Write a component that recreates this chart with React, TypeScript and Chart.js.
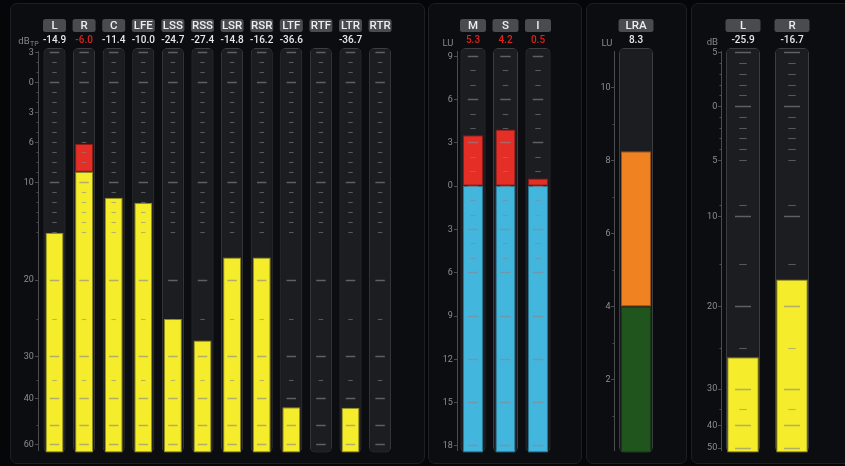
import React, { useEffect, useRef } from 'react';
import { Chart, registerables, LinearScale } from 'chart.js';

Chart.register(...registerables);

// ---------------- data ----------------
// True-peak meter (dBTP)
const tpChannels = ['L', 'R', 'C', 'LFE', 'LSS', 'RSS', 'LSR', 'RSR', 'LTF', 'RTF', 'LTR', 'RTR'];
const tpLevels: (number | null)[] = [-15.1, -6.2, -11.6, -12.1, -25.0, -27.9, -17.7, -17.7, -43.4, null, -43.6, null];
const tpPeaks: (number | null)[] = [-14.9, -6.0, -11.4, -10.0, -24.7, -27.4, -14.8, -16.2, -36.6, null, -36.7, null];
const tpTicks = [3, 2, 1, 0, -1, -2, -3, -4, -5, -6, -7, -8, -9, -10, -11, -12, -13, -14, -15, -20, -25, -30, -35, -40, -50, -60];
const tpMajor = [3, 0, -10, -20, -30, -40, -50, -60];
const tpLabelTicks = [3, 0, -3, -6, -10, -20, -30, -40, -60];
const tpRedAbove = -9;
// meter law: [dB, fraction of meter height]
const tpLaw: [number, number][] = [
  [-65, 0], [-60, 0.021], [-50, 0.068], [-40, 0.1347], [-35, 0.1792], [-30, 0.2386],
  [-25, 0.33], [-20, 0.4272], [-15, 0.5459], [3, 0.9894], [3.45, 1],
];

// Loudness meter (LU)
const luChannels = ['M', 'S', 'I'];
const luLevels = [3.5, 3.9, 0.5];
const luReadings = [5.3, 4.2, 0.5];
const luTicks = [9, 8, 7, 6, 5, 4, 3, 2, 1, 0, -1, -2, -3, -4, -5, -6, -9, -12, -15, -18];
const luMajor = [9, 6, 3, 0, -3, -6, -9, -12, -15, -18];
const luLabelTicks = [9, 6, 3, 0, -3, -6, -9, -12, -15, -18];
const luRedAbove = 0;
const luLaw: [number, number][] = [[-18.5, 0], [9.55, 1]];

// Loudness range (LU)
const lraLabels = ['LRA'];
const lraLow = [4.0];
const lraHigh = [8.25];
const lraReadings = [8.3];
const lraAxisTicks = [10, 9, 8, 7, 6, 5, 4, 3, 2, 1];
const lraLabelTicks = [10, 8, 6, 4, 2];
const lraLaw: [number, number][] = [[0, 0], [11.08, 1]];

// Stereo dB meter
const dbChannels = ['L', 'R'];
const dbLevels = [-26.1, -16.8];
const dbReadings = [-25.9, -16.7];
const dbTicks = [5, 4, 3, 2, 1, 0, -1, -2, -3, -4, -5, -9, -10, -15, -20, -25, -30, -35, -40, -50];
const dbMajor = [5, 0, -10, -20, -30, -40, -50];
const dbLabelTicks = [5, 0, -5, -10, -20, -30, -40, -50];
const dbLaw: [number, number][] = [
  [-52.2, 0], [-50, 0.0119], [-40, 0.068], [-35, 0.1068], [-30, 0.1577], [-25, 0.2576],
  [-20, 0.3614], [-15, 0.4653], [-10, 0.5847], [-5, 0.7231], [5, 0.9894], [5.4, 1],
];

// ---------------- scale ----------------
function makeMeterScale(scaleId: string, law: [number, number][]) {
  class MeterScale extends (LinearScale as any) {
    static id = scaleId;
    static defaults = (LinearScale as any).defaults;
    determineDataLimits() {
      (this as any).min = law[0][0];
      (this as any).max = law[law.length - 1][0];
    }
    buildTicks() {
      return law.map(([v]) => ({ value: v }));
    }
    getPixelForValue(value: number) {
      let f = law[0][1];
      if (value >= law[law.length - 1][0]) f = law[law.length - 1][1];
      else if (value > law[0][0]) {
        for (let i = 1; i < law.length; i++) {
          if (value <= law[i][0]) {
            const [v0, f0] = law[i - 1];
            const [v1, f1] = law[i];
            f = f0 + ((f1 - f0) * (value - v0)) / (v1 - v0);
            break;
          }
        }
      }
      const s = this as any;
      return s.bottom - f * (s.bottom - s.top);
    }
    getValueForPixel(pixel: number) {
      const s = this as any;
      const f = (s.bottom - pixel) / (s.bottom - s.top);
      for (let i = 1; i < law.length; i++) {
        if (f <= law[i][1]) {
          const [v0, f0] = law[i - 1];
          const [v1, f1] = law[i];
          return v0 + ((v1 - v0) * (f - f0)) / (f1 - f0);
        }
      }
      return law[law.length - 1][0];
    }
  }
  return MeterScale;
}

Chart.register(
  makeMeterScale('meterTP', tpLaw) as any,
  makeMeterScale('meterLU', luLaw) as any,
  makeMeterScale('meterLRA', lraLaw) as any,
  makeMeterScale('meterDB', dbLaw) as any,
);

// ---------------- layout / style ----------------
const W = 845;
const H = 466;
const AREA_TOP = 48;
const AREA_BOTTOM = 452.5;
const FONT = 'Roboto, "Noto Sans", sans-serif';

const panels = [
  { x: 10, y: 3, w: 415, h: 461 },
  { x: 428, y: 3, w: 154, h: 461 },
  { x: 586, y: 3, w: 101, h: 461 },
  { x: 691, y: 3, w: 170, h: 461 },
];

const YELLOW = '#f5ed2b';
const YELLOW_EDGE = '#8f891b';
const RED = '#e52e26';
const RED_EDGE = '#8e1b17';
const BLUE = '#43b6de';
const BLUE_EDGE = '#2b7893';
const ORANGE = '#f18222';
const ORANGE_EDGE = '#9a5318';
const GREEN = '#20561e';
const GREEN_EDGE = '#163c15';

type Seg = { data: ([number, number] | null)[]; color: string; edge: string };

interface Spec {
  scaleId: string;
  labels: string[];
  left: number;
  right: number;
  axisX: number;
  trackPct: number;
  barPct: number;
  trackRange: [number, number];
  segments: Seg[];
  dashTicks: number[];
  dashMajor: number[];
  dashLong: number;
  dashShort: number;
  axisTicks: number[];
  labelTicks: number[];
  unit: { text: string; sub?: string; x: number; y: number; align: 'left' | 'center' };
  readings: (number | null)[];
  readingColor: (v: number) => string;
}

const tpFloor = tpLaw[0][0];
const tpTop = tpLaw[tpLaw.length - 1][0];
const luFloor = luLaw[0][0];
const luTop = luLaw[luLaw.length - 1][0];
const lraTop = lraLaw[lraLaw.length - 1][0];
const dbFloor = dbLaw[0][0];
const dbTop = dbLaw[dbLaw.length - 1][0];

const specs: Spec[] = [
  {
    scaleId: 'meterTP',
    labels: tpChannels,
    left: 39.7,
    right: 394.9,
    axisX: 37.7,
    trackPct: 0.743,
    barPct: 0.608,
    trackRange: [tpFloor, tpTop],
    segments: [
      { data: tpLevels.map((v) => (v == null ? null : [tpFloor, Math.min(v, tpRedAbove)] as [number, number])), color: YELLOW, edge: YELLOW_EDGE },
      { data: tpLevels.map((v) => (v != null && v > tpRedAbove ? [tpRedAbove, v] as [number, number] : null)), color: RED, edge: RED_EDGE },
    ],
    dashTicks: tpTicks,
    dashMajor: tpMajor,
    dashLong: 9.5,
    dashShort: 4.5,
    axisTicks: tpTicks,
    labelTicks: tpLabelTicks,
    unit: { text: 'dB', sub: 'TP', x: 18.3, y: 41.5, align: 'left' },
    readings: tpPeaks,
    readingColor: (v) => (v > tpRedAbove ? '#e0211c' : '#e8e8e8'),
  },
  {
    scaleId: 'meterLU',
    labels: luChannels,
    left: 456.75,
    right: 554.25,
    axisX: 456.7,
    trackPct: 0.77,
    barPct: 0.615,
    trackRange: [luFloor, luTop],
    segments: [
      { data: luLevels.map((v) => [luFloor, Math.min(v, luRedAbove)] as [number, number]), color: BLUE, edge: BLUE_EDGE },
      { data: luLevels.map((v) => (v > luRedAbove ? [luRedAbove, v] as [number, number] : null)), color: RED, edge: RED_EDGE },
    ],
    dashTicks: luTicks,
    dashMajor: luMajor,
    dashLong: 10.5,
    dashShort: 5.5,
    axisTicks: luLabelTicks,
    labelTicks: luLabelTicks,
    unit: { text: 'LU', x: 448, y: 43.3, align: 'center' },
    readings: luReadings,
    readingColor: (v) => (v > luRedAbove ? '#e0211c' : '#e8e8e8'),
  },
  {
    scaleId: 'meterLRA',
    labels: lraLabels,
    left: 614.3,
    right: 657.7,
    axisX: 614.3,
    trackPct: 0.783,
    barPct: 0.691,
    trackRange: [0, lraTop],
    segments: [
      { data: lraLow.map((v) => [0, v] as [number, number]), color: GREEN, edge: GREEN_EDGE },
      { data: lraLow.map((v, i) => [v, lraHigh[i]] as [number, number]), color: ORANGE, edge: ORANGE_EDGE },
    ],
    dashTicks: [],
    dashMajor: [],
    dashLong: 0,
    dashShort: 0,
    axisTicks: lraAxisTicks,
    labelTicks: lraLabelTicks,
    unit: { text: 'LU', x: 607, y: 43.3, align: 'center' },
    readings: lraReadings,
    readingColor: () => '#e8e8e8',
  },
  {
    scaleId: 'meterDB',
    labels: dbChannels,
    left: 718.5,
    right: 816.5,
    axisX: 721,
    trackPct: 0.694,
    barPct: 0.645,
    trackRange: [dbFloor, dbTop],
    segments: [
      { data: dbLevels.map((v) => [dbFloor, v] as [number, number]), color: YELLOW, edge: YELLOW_EDGE },
    ],
    dashTicks: dbTicks,
    dashMajor: dbMajor,
    dashLong: 16,
    dashShort: 7.5,
    axisTicks: dbTicks,
    labelTicks: dbLabelTicks,
    unit: { text: 'dB', x: 712.3, y: 43, align: 'center' },
    readings: dbReadings,
    readingColor: () => '#e8e8e8',
  },
];

function rrect(ctx: CanvasRenderingContext2D, x: number, y: number, w: number, h: number, r: number) {
  ctx.beginPath();
  ctx.moveTo(x + r, y);
  ctx.lineTo(x + w - r, y);
  ctx.quadraticCurveTo(x + w, y, x + w, y + r);
  ctx.lineTo(x + w, y + h - r);
  ctx.quadraticCurveTo(x + w, y + h, x + w - r, y + h);
  ctx.lineTo(x + r, y + h);
  ctx.quadraticCurveTo(x, y + h, x, y + h - r);
  ctx.lineTo(x, y + r);
  ctx.quadraticCurveTo(x, y, x + r, y);
  ctx.closePath();
}

function decor(spec: Spec) {
  return {
    id: 'meterDecor',
    afterDatasetsDraw(chart: any) {
      const ctx: CanvasRenderingContext2D = chart.ctx;
      const y = chart.scales.y;
      const track = chart.getDatasetMeta(0).data as any[];
      ctx.save();

      // dashes inside the tracks
      for (const el of track) {
        for (const v of spec.dashTicks) {
          const major = spec.dashMajor.includes(v);
          const half = (major ? spec.dashLong : spec.dashShort) / 2;
          const py = Math.round(y.getPixelForValue(v)) + 0.5;
          ctx.strokeStyle = major ? 'rgba(135,137,141,0.62)' : 'rgba(135,137,141,0.55)';
          ctx.lineWidth = major ? 1.5 : 1.1;
          ctx.beginPath();
          ctx.moveTo(el.x - half, py);
          ctx.lineTo(el.x + half, py);
          ctx.stroke();
        }
      }

      // axis
      const ax = Math.round(spec.axisX) + 0.5;
      ctx.strokeStyle = '#4a4c50';
      ctx.lineWidth = 1;
      ctx.beginPath();
      ctx.moveTo(ax, 51);
      ctx.lineTo(ax, 451);
      ctx.stroke();
      for (const v of spec.axisTicks) {
        const isLabel = spec.labelTicks.includes(v);
        const len = isLabel ? 3.5 : 2;
        const py = Math.round(y.getPixelForValue(v)) + 0.5;
        ctx.beginPath();
        ctx.moveTo(ax - len, py);
        ctx.lineTo(ax, py);
        ctx.stroke();
      }
      ctx.fillStyle = '#8b8d91';
      ctx.font = `9px ${FONT}`;
      ctx.textAlign = 'right';
      ctx.textBaseline = 'middle';
      for (const v of spec.labelTicks) {
        ctx.fillText(String(Math.abs(v)), spec.axisX - 3.8, y.getPixelForValue(v) + 0.5);
      }

      // unit
      ctx.fillStyle = '#85878b';
      ctx.font = `9.5px ${FONT}`;
      ctx.textAlign = spec.unit.align;
      ctx.fillText(spec.unit.text, spec.unit.x, spec.unit.y);
      if (spec.unit.sub) {
        const w = ctx.measureText(spec.unit.text).width;
        ctx.font = `7px ${FONT}`;
        ctx.textAlign = 'left';
        ctx.fillText(spec.unit.sub, spec.unit.x + w + 0.5, spec.unit.y + 2.5);
      }

      // headers
      track.forEach((el: any, i: number) => {
        const w = el.width + 1;
        ctx.fillStyle = '#4a4b4e';
        rrect(ctx, el.x - w / 2, 19, w, 13, 2.5);
        ctx.fill();
        ctx.fillStyle = '#ededed';
        ctx.font = `500 11.5px ${FONT}`;
        ctx.textAlign = 'center';
        ctx.textBaseline = 'middle';
        ctx.fillText(spec.labels[i], el.x, 25.9);
        const r = spec.readings[i];
        if (r != null) {
          ctx.fillStyle = spec.readingColor(r);
          ctx.font = `500 10px ${FONT}`;
          ctx.fillText(r.toFixed(1), el.x, 40.6);
        }
      });
      ctx.restore();
    },
  };
}

function buildChart(canvas: HTMLCanvasElement, spec: Spec) {
  const common = { categoryPercentage: 1, grouped: false, borderSkipped: false, clip: false as any };
  const datasets: any[] = [
    {
      ...common,
      data: spec.labels.map(() => spec.trackRange),
      backgroundColor: '#1b1d20',
      borderColor: '#3c3e42',
      borderWidth: 1,
      borderRadius: 5,
      barPercentage: spec.trackPct,
      order: 10,
    },
    ...spec.segments.map((s, k) => ({
      ...common,
      data: s.data,
      backgroundColor: s.color,
      borderColor: s.edge,
      borderWidth: 1,
      borderRadius: 0,
      barPercentage: spec.barPct,
      order: 5 - k,
    })),
  ];
  return new Chart(canvas, {
    type: 'bar',
    data: { labels: spec.labels, datasets },
    options: {
      animation: false,
      responsive: false,
      events: [],
      layout: {
        padding: { left: spec.left, right: W - spec.right, top: AREA_TOP, bottom: H - AREA_BOTTOM },
      },
      plugins: { legend: { display: false }, tooltip: { enabled: false }, title: { display: false } },
      scales: {
        x: { type: 'category', display: false, offset: true },
        y: { type: spec.scaleId as any, display: false },
      },
    } as any,
    plugins: [decor(spec) as any],
  });
}

export default function App() {
  const refs = useRef<(HTMLCanvasElement | null)[]>([]);
  useEffect(() => {
    const charts = specs.map((s, i) => buildChart(refs.current[i] as HTMLCanvasElement, s));
    return () => charts.forEach((c) => c.destroy());
  }, []);
  return (
    <div style={{ position: 'fixed', left: 0, top: 0, width: W, height: H, background: '#050608', overflow: 'hidden' }}>
      {panels.map((p, i) => (
        <div
          key={i}
          style={{
            position: 'absolute',
            left: p.x,
            top: p.y,
            width: p.w,
            height: p.h,
            background: '#0c0d10',
            border: '1px solid #1d1f23',
            borderRadius: 7,
            boxSizing: 'border-box',
          }}
        />
      ))}
      {specs.map((s, i) => (
        <canvas
          key={s.scaleId}
          ref={(el) => {
            refs.current[i] = el;
          }}
          width={W}
          height={H}
          style={{ position: 'absolute', left: 0, top: 0, width: W, height: H }}
        />
      ))}
    </div>
  );
}
